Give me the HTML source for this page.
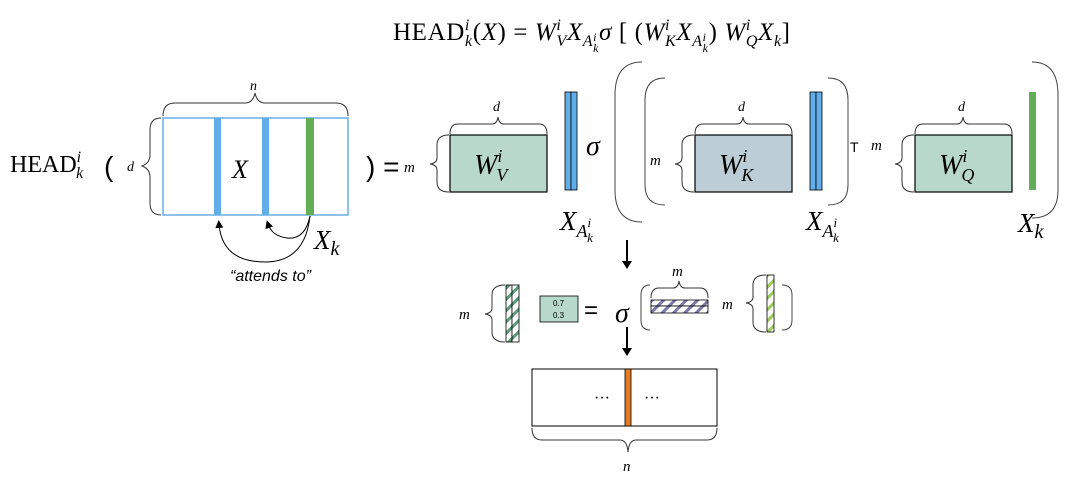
<!DOCTYPE html>
<html><head><style>
html,body{margin:0;padding:0;background:#fff;}
svg{display:block;}
text{font-family:"Liberation Serif",serif;fill:#000;}
.it{font-style:italic;}
.sans{font-family:"Liberation Sans",sans-serif;}
</style></head><body>
<svg width="1080" height="482" viewBox="0 0 1080 482" xmlns="http://www.w3.org/2000/svg">
<defs>
<pattern id="hg" width="8" height="8" patternUnits="userSpaceOnUse" patternTransform="rotate(45)">
<rect width="8" height="8" fill="#fff"/><rect width="3" height="8" fill="#5a9a7a"/></pattern>
<pattern id="hp" width="8" height="8" patternUnits="userSpaceOnUse" patternTransform="rotate(45)">
<rect width="8" height="8" fill="#fff"/><rect width="3" height="8" fill="#7a78a8"/></pattern>
<pattern id="hl" width="8" height="8" patternUnits="userSpaceOnUse" patternTransform="rotate(45)">
<rect width="8" height="8" fill="#fff"/><rect width="3" height="8" fill="#9ccc5a"/></pattern>
<marker id="ah" markerWidth="8" markerHeight="8" refX="4" refY="4" orient="auto"><path d="M0,0 L8,4 L0,8z" fill="#000"/></marker>
</defs>

<!-- top formula -->
<text x="393" y="40" font-size="25" textLength="397" lengthAdjust="spacing">HEAD<tspan class="it" font-size="16" dy="-10">i</tspan><tspan class="it" font-size="16" dx="-5" dy="16">k</tspan><tspan dy="-6">(</tspan><tspan class="it">X</tspan>) = <tspan class="it">W</tspan><tspan class="it" font-size="16" dy="-10">i</tspan><tspan class="it" font-size="16" dx="-5" dy="16">V</tspan><tspan class="it" dy="-6">X</tspan><tspan class="it" font-size="16" dy="6">A</tspan><tspan class="it" font-size="12" dy="-5">i</tspan><tspan class="it" font-size="12" dx="-4" dy="11">k</tspan><tspan class="it" dy="-12">σ</tspan> [ (<tspan class="it">W</tspan><tspan class="it" font-size="16" dy="-10">i</tspan><tspan class="it" font-size="16" dx="-5" dy="16">K</tspan><tspan class="it" dy="-6">X</tspan><tspan class="it" font-size="16" dy="6">A</tspan><tspan class="it" font-size="12" dy="-5">i</tspan><tspan class="it" font-size="12" dx="-4" dy="11">k</tspan><tspan dy="-12">)</tspan> <tspan class="it">W</tspan><tspan class="it" font-size="16" dy="-10">i</tspan><tspan class="it" font-size="16" dx="-5" dy="16">Q</tspan><tspan class="it" dy="-6">X</tspan><tspan class="it" font-size="16" dy="6">k</tspan><tspan dy="-6">]</tspan></text>

<!-- left part -->
<text x="10" y="172" font-size="24">HEAD<tspan class="it" font-size="16" dy="-10">i</tspan><tspan class="it" font-size="16" dx="-5" dy="16">k</tspan></text>
<text x="104" y="176" font-size="28" class="sans">(</text>
<rect x="163" y="118" width="185" height="97" fill="#fff" stroke="#6aaee8" stroke-width="1.5"/>
<rect x="214" y="118" width="7" height="97" fill="#62aee8"/>
<rect x="262" y="118" width="7" height="97" fill="#62aee8"/>
<rect x="306" y="118" width="8" height="97" fill="#62ad56"/>
<text x="232" y="178" font-size="26" class="it">X</text>
<path d="M163,116 Q163,103 175,103 L245,103 Q253,103 255,93 Q257,103 265,103 L336,103 Q348,103 348,116" fill="none" stroke="#333" stroke-width="1"/>
<text x="250" y="90" font-size="14" class="it">n</text>
<path d="M161,118 Q150,118 150,130 L150,155 Q150,163 142,166 Q150,169 150,177 L150,203 Q150,215 161,215" fill="none" stroke="#333" stroke-width="1"/>
<text x="127" y="171" font-size="14" class="it">d</text>
<text x="314" y="249" font-size="27" class="it">X<tspan font-size="20" dy="6">k</tspan></text>
<path d="M310,216 Q305,240 287,238 Q272,236 268,224" fill="none" stroke="#000" stroke-width="1" marker-end="url(#ah)"/>
<path d="M310,216 Q305,262 265,262 Q222,262 219,224" fill="none" stroke="#000" stroke-width="1" marker-end="url(#ah)"/>
<text x="230" y="281" font-size="16" class="it sans">“attends to”</text>
<text x="366" y="176" font-size="28" class="sans">) =</text>

<!-- W_V -->
<text x="404" y="172" font-size="15" class="it">m</text>
<rect x="450" y="135" width="97" height="57" fill="#b8d8cc" stroke="#000" stroke-width="1.2"/>
<text x="474" y="174" font-size="28" class="it">W<tspan font-size="18" dy="-12">i</tspan><tspan font-size="18" dx="-6" dy="19">V</tspan></text>
<path d="M450,134 Q450,124 458,124 L492,124 Q497,124 498,117 Q499,124 504,124 L539,124 Q547,124 547,134" fill="none" stroke="#333"/>
<text x="493" y="111" font-size="14" class="it">d</text>
<path d="M449,135 Q437,135 437,145 L437,158 Q437,163 430,164 Q437,165 437,170 L437,182 Q437,192 449,192" fill="none" stroke="#333"/>
<rect x="565" y="92" width="6" height="98" fill="#62aee8" stroke="#000" stroke-width="0.8"/>
<rect x="571" y="92" width="6" height="98" fill="#62aee8" stroke="#000" stroke-width="0.8"/>
<text x="560" y="230" font-size="27" class="it">X<tspan font-size="18" dy="7">A</tspan><tspan font-size="13" dy="-10">i</tspan><tspan font-size="13" dx="-4" dy="15">k</tspan></text>
<text x="586" y="155" font-size="28" class="it">σ</text>
<path d="M642,62 Q615,62 615,95 L615,190 Q615,222 642,222" fill="none" stroke="#444"/>
<path d="M665,78 Q645,78 645,100 L645,185 Q645,205 665,205" fill="none" stroke="#444"/>

<!-- W_K -->
<text x="650" y="165" font-size="15" class="it">m</text>
<rect x="695" y="135" width="97" height="57" fill="#bccdd5" stroke="#000" stroke-width="1.2"/>
<text x="719" y="174" font-size="28" class="it">W<tspan font-size="18" dy="-12">i</tspan><tspan font-size="18" dx="-6" dy="19">K</tspan></text>
<path d="M695,134 Q695,124 703,124 L737,124 Q742,124 743,117 Q744,124 749,124 L784,124 Q792,124 792,134" fill="none" stroke="#333"/>
<text x="738" y="111" font-size="14" class="it">d</text>
<path d="M694,135 Q682,135 682,145 L682,158 Q682,163 675,164 Q682,165 682,170 L682,182 Q682,192 694,192" fill="none" stroke="#333"/>
<rect x="810" y="92" width="6" height="98" fill="#62aee8" stroke="#000" stroke-width="0.8"/>
<rect x="816" y="92" width="6" height="98" fill="#62aee8" stroke="#000" stroke-width="0.8"/>
<text x="806" y="230" font-size="27" class="it">X<tspan font-size="18" dy="7">A</tspan><tspan font-size="13" dy="-10">i</tspan><tspan font-size="13" dx="-4" dy="15">k</tspan></text>
<path d="M828,78 Q848,78 848,100 L848,185 Q848,205 828,205" fill="none" stroke="#444"/>
<text x="850" y="152" font-size="14" class="sans">T</text>

<!-- W_Q -->
<text x="871" y="150" font-size="15" class="it">m</text>
<rect x="915" y="135" width="97" height="57" fill="#b8d8cc" stroke="#000" stroke-width="1.2"/>
<text x="939" y="174" font-size="28" class="it">W<tspan font-size="18" dy="-12">i</tspan><tspan font-size="18" dx="-6" dy="19">Q</tspan></text>
<path d="M915,134 Q915,124 923,124 L957,124 Q962,124 963,117 Q964,124 969,124 L1004,124 Q1012,124 1012,134" fill="none" stroke="#333"/>
<text x="958" y="111" font-size="14" class="it">d</text>
<path d="M914,135 Q902,135 902,145 L902,158 Q902,163 895,164 Q902,165 902,170 L902,182 Q902,192 914,192" fill="none" stroke="#333"/>
<rect x="1029" y="92" width="7" height="98" fill="#62ad56"/>
<path d="M1032,62 Q1058,62 1058,95 L1058,190 Q1058,218 1032,218" fill="none" stroke="#444"/>
<text x="1018" y="232" font-size="27" class="it">X<tspan font-size="20" dy="6">k</tspan></text>

<!-- arrow 1 -->
<line x1="627" y1="240" x2="627" y2="262" stroke="#000" stroke-width="2"/>
<path d="M622,261 L632,261 L627,269z" fill="#000"/>

<!-- row 2 -->
<text x="459" y="319" font-size="15" class="it">m</text>
<path d="M505,285 Q492,285 492,295 L492,308 Q492,313 485,314 Q492,315 492,320 L492,332 Q492,342 505,342" fill="none" stroke="#333"/>
<rect x="506" y="285" width="6" height="57" fill="url(#hg)" stroke="#000" stroke-width="0.8"/>
<rect x="512" y="285" width="7" height="57" fill="url(#hg)" stroke="#000" stroke-width="0.8"/>
<rect x="540" y="296" width="38" height="26" fill="#b8d8cc" stroke="#000" stroke-width="0.8"/>
<text x="553" y="306" font-size="8" class="sans">0.7</text>
<text x="553" y="318" font-size="8" class="sans">0.3</text>
<text x="584" y="318" font-size="24" class="sans">=</text>
<text x="615" y="322" font-size="28" class="it">σ</text>
<path d="M650,285 Q641,285 641,295 L641,320 Q641,330 650,330" fill="none" stroke="#444"/>
<rect x="651" y="300" width="57" height="6" fill="url(#hp)" stroke="#000" stroke-width="0.8"/>
<rect x="651" y="306" width="57" height="7" fill="url(#hp)" stroke="#000" stroke-width="0.8"/>
<path d="M651,298 Q651,288 659,288 L673,288 Q678,288 679,281 Q680,288 685,288 L700,288 Q708,288 708,298" fill="none" stroke="#333"/>
<text x="672" y="276" font-size="15" class="it">m</text>
<text x="722" y="309" font-size="15" class="it">m</text>
<path d="M766,275 Q753,275 753,285 L753,297 Q753,302 746,303 Q753,304 753,309 L753,322 Q753,332 766,332" fill="none" stroke="#333"/>
<rect x="767" y="275" width="7" height="57" fill="url(#hl)" stroke="#000" stroke-width="0.8"/>
<path d="M782,285 Q792,285 792,295 L792,320 Q792,330 782,330" fill="none" stroke="#444"/>

<!-- arrow 2 -->
<line x1="627" y1="327" x2="627" y2="349" stroke="#000" stroke-width="2"/>
<path d="M622,348 L632,348 L627,356z" fill="#000"/>

<!-- bottom -->
<rect x="532" y="369" width="185" height="57" fill="#fff" stroke="#000" stroke-width="1"/>
<rect x="625" y="369" width="6" height="57" fill="#e67a22" stroke="#000" stroke-width="0.8"/>
<text x="594" y="403" font-size="16">···</text>
<text x="644" y="403" font-size="16">···</text>
<path d="M532,428 Q532,440 542,440 L620,440 Q627,440 628,452 Q629,440 636,440 L707,440 Q717,440 717,428" fill="none" stroke="#333"/>
<text x="623" y="471" font-size="15" class="it">n</text>
</svg>
</body></html>
